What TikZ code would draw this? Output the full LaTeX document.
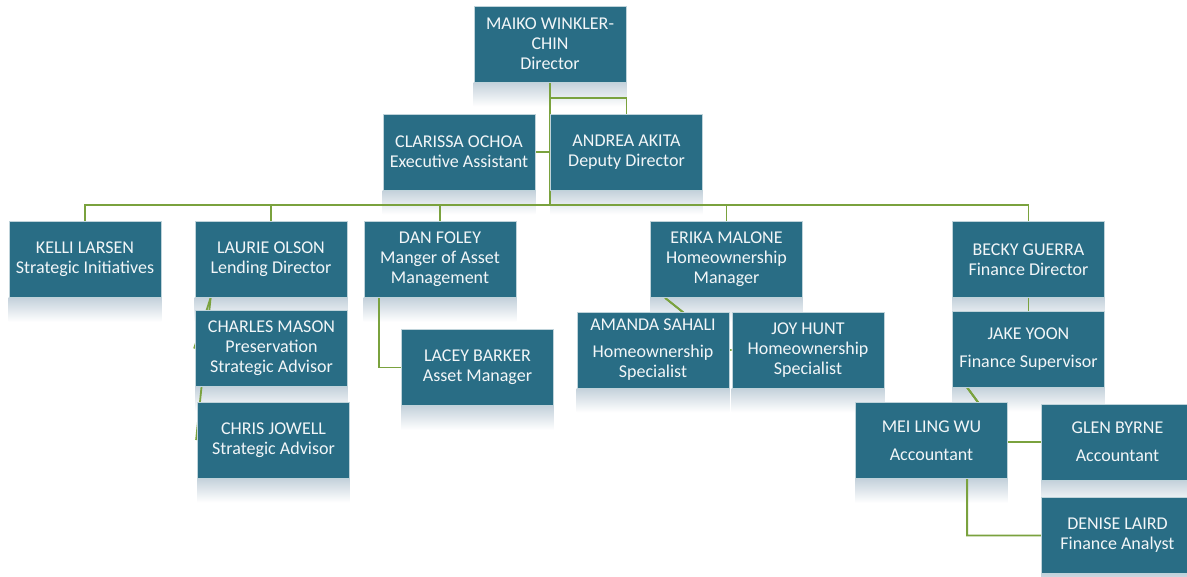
\documentclass[tikz,border=0pt]{standalone}
\usepackage{fontspec}
\setmainfont{Carlito}
\usetikzlibrary{positioning,backgrounds,calc}
\definecolor{boxblue}{RGB}{41,109,133}
\definecolor{linkgreen}{RGB}{122,162,62}
\definecolor{glow}{RGB}{196,209,219}

\begin{document}
\begin{tikzpicture}[
    x=1pt, y=-1pt,
    font=\fontsize{18}{20}\selectfont,
    person/.style={draw=white!70!boxblue, fill=boxblue, text=white!94!boxblue, minimum width=152pt, minimum height=76pt, align=center, line width=0.8pt, inner sep=2pt},
    link/.style={draw=linkgreen, line width=1.8pt},
    mirror/.style={top color=glow, bottom color=white, draw=none}
]
\useasboundingbox (0,0) rectangle (1187,577);

% top of the chart
\node[person] (maiko) at (550,44) {MAIKO WINKLER-\\CHIN\\Director};
\node[person] (clarissa) at (459,152) {CLARISSA OCHOA\\Executive Assistant};
\node[person] (andrea) at (626.5,152) {ANDREA AKITA\\Deputy Director};

% department heads
\node[person] (kelli) at (85,259.5) {KELLI LARSEN\\Strategic Initiatives};
\node[person] (laurie) at (271,259.5) {LAURIE OLSON\\Lending Director};
\node[person] (dan) at (440,259.5) {DAN FOLEY\\Manger of Asset\\Management};
\node[person] (erika) at (726.5,259.5) {ERIKA MALONE\\Homeownership\\Manager};
\node[person] (becky) at (1028.5,259.5) {BECKY GUERRA\\Finance Director};

% staff
\node[person] (charles) at (271.5,348.5) {CHARLES MASON\\Preservation\\Strategic Advisor};
\node[person] (chris) at (273.5,440) {CHRIS JOWELL\\Strategic Advisor};
\node[person] (lacey) at (477.5,367.5) {LACEY BARKER\\Asset Manager};
\node[person] (amanda) at (653,350) {AMANDA SAHALI\\[7pt]Homeownership\\Specialist};
\node[person] (joy) at (808,350) {JOY HUNT\\Homeownership\\Specialist};
\node[person] (jake) at (1028.5,349) {JAKE YOON\\[8pt]Finance Supervisor};
\node[person] (meiling) at (931.5,440.5) {MEI LING WU\\[8pt]Accountant};
\node[person] (glen) at (1117.5,442) {GLEN BYRNE\\[8pt]Accountant};
\node[person] (denise) at (1117.5,535.5) {DENISE LAIRD\\Finance Analyst};

\begin{scope}[on background layer]
  % faded reflections under the boxes
  \foreach \n in {maiko,clarissa,andrea,kelli,laurie,dan,erika,becky,charles,chris,lacey,amanda,joy,jake,meiling,glen,denise}
    \shade[mirror] (\n.south west) rectangle ([yshift=-24pt]\n.south east);

  \coordinate (bar) at (550,205);
  \coordinate (p) at (704,329);
  \coordinate (q) at (991,420);

  \draw[link] (maiko.south) -- (bar);
  \draw[link] ([yshift=-16pt]maiko.south) -| (andrea.north);
  \draw[link] (clarissa.east) -- (clarissa.east -| maiko.south);
  \foreach \n in {kelli,laurie,dan,erika,becky}
    \draw[link] (bar) -| (\n.north);

  \draw[link] ([xshift=16pt]laurie.south west) -- ([xshift=-1pt]charles.west);
  \draw[link] ([xshift=16pt]laurie.south west) -- ([xshift=-1pt]chris.west);
  \draw[link] ([xshift=15pt]dan.south west) |- (lacey.west);

  \draw[link] ([xshift=15pt]erika.south west) -- (p);
  \draw[link] ([xshift=15pt]erika.south west) -- (p) |- (joy.west);

  \draw[link] (becky) -- (jake);
  \draw[link] ([xshift=15pt]jake.south west) -- (q);
  \draw[link] ([xshift=15pt]jake.south west) -- (q) |- (glen.west);
  \draw[link] ([xshift=15pt]jake.south west) -- (q) -- ([xshift=15pt]jake.south west |- meiling.center) |- (denise.west);
\end{scope}
\end{tikzpicture}
\end{document}
